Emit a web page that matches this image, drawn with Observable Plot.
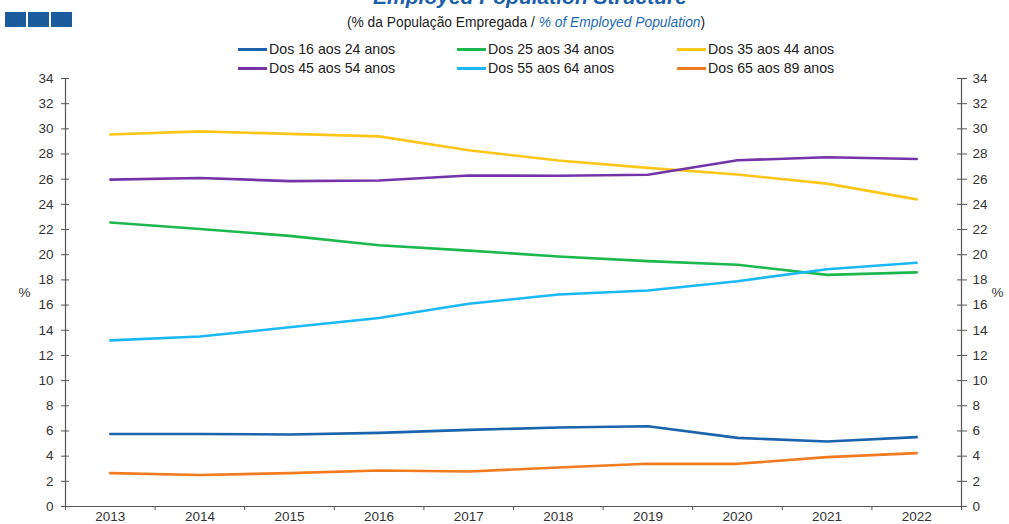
<!DOCTYPE html>
<html><head><meta charset="utf-8">
<script src="https://cdn.jsdelivr.net/npm/d3@7"></script>
<script src="https://cdn.jsdelivr.net/npm/@observablehq/plot@0.6"></script>
<style>
body{margin:0;background:#fff;font-family:"Liberation Sans",Arial,sans-serif;}
#wrap{position:relative;width:1009px;height:524px;overflow:hidden;background:#fff;}
.box{position:absolute;top:12px;width:21px;height:15px;background:#1a5c9e;}
#title{position:absolute;left:530px;top:-14px;transform:translateX(-50%);white-space:nowrap;font-size:21px;line-height:21px;font-weight:bold;font-style:italic;color:#1c5fa8;z-index:2;}
#subtitle{position:absolute;left:526px;top:16px;transform:translateX(-50%);white-space:nowrap;font-size:13.8px;line-height:14px;color:#222;z-index:2;}
#subtitle span{color:#1c6bb8;font-style:italic;}
#legend{position:absolute;left:0;top:0;z-index:2;}
.lg{position:absolute;font-size:14.2px;line-height:14px;color:#222;white-space:nowrap;}
.lg i{display:inline-block;width:29px;height:3px;vertical-align:middle;margin-right:2px;position:relative;top:-1px;}
#chart{position:absolute;left:0;top:70px;z-index:1;}
</style></head><body>
<div id="wrap">
  <div class="box" style="left:5px"></div>
  <div class="box" style="left:28px"></div>
  <div class="box" style="left:51px"></div>
  <div id="title">Employed Population Structure</div>
  <div id="subtitle">(% da População Empregada / <span>% of Employed Population</span>)</div>
  <div id="legend"></div>
  <div id="chart"></div>
</div>
<script>
const years = [2013, 2014, 2015, 2016, 2017, 2018, 2019, 2020, 2021, 2022];
const seriesNames = ["Dos 16 aos 24 anos", "Dos 25 aos 34 anos", "Dos 35 aos 44 anos", "Dos 45 aos 54 anos", "Dos 55 aos 64 anos", "Dos 65 aos 89 anos"];
const seriesColors = ["#1a63ad", "#1cb84e", "#ffc61a", "#7434a8", "#1ab8f5", "#f27b1f"];
const v16_24 = [5.76, 5.76, 5.72, 5.85, 6.09, 6.27, 6.38, 5.45, 5.16, 5.51];
const v25_34 = [22.56, 22.05, 21.5, 20.75, 20.33, 19.86, 19.49, 19.2, 18.4, 18.6];
const v35_44 = [29.55, 29.8, 29.6, 29.4, 28.3, 27.48, 26.9, 26.37, 25.65, 24.4];
const v45_54 = [25.97, 26.1, 25.85, 25.9, 26.3, 26.27, 26.35, 27.5, 27.75, 27.6];
const v55_64 = [13.2, 13.5, 14.24, 14.98, 16.1, 16.84, 17.16, 17.9, 18.85, 19.36];
const v65_89 = [2.65, 2.5, 2.65, 2.86, 2.78, 3.1, 3.39, 3.39, 3.92, 4.24];
const yTicks = [0, 2, 4, 6, 8, 10, 12, 14, 16, 18, 20, 22, 24, 26, 28, 30, 32, 34];

const allValues = [v16_24, v25_34, v35_44, v45_54, v55_64, v65_89];
const data = [];
allValues.forEach((vals, i) => vals.forEach((v, j) => data.push({series: seriesNames[i], year: years[j], value: v})));
const xDom = [years[0] - 0.5, years[years.length - 1] + 0.5];
const bounds = years.map(y => y - 0.5).concat([xDom[1]]);

// legend
const legend = document.getElementById("legend");
const colX = [238, 457, 677];
const rowY = [42, 61];
seriesNames.forEach((name, i) => {
  const d = document.createElement("div");
  d.className = "lg";
  d.style.left = colX[i % 3] + "px";
  d.style.top = rowY[Math.floor(i / 3)] + "px";
  d.innerHTML = `<i style="background:${seriesColors[i]}"></i>${name}`;
  legend.appendChild(d);
});

const noText = () => "";
const chart = Plot.plot({
  width: 1009,
  height: 454,
  marginTop: 8,
  marginBottom: 18,
  marginLeft: 65,
  marginRight: 48,
  style: {fontFamily: '"Liberation Sans", Arial, sans-serif', fontSize: "13.5px", color: "#333", background: "transparent", overflow: "visible"},
  x: {type: "linear", domain: xDom},
  y: {domain: [0, 34]},
  color: {domain: seriesNames, range: seriesColors},
  marks: [
    Plot.ruleX([xDom[0], xDom[1]], {stroke: "#555", strokeWidth: 1.2}),
    Plot.ruleY([0], {stroke: "#555", strokeWidth: 1.2}),
    Plot.axisY({anchor: "left", ticks: yTicks, tickSize: 4, tickPadding: 8, label: null, stroke: "#555"}),
    Plot.axisY({anchor: "left", ticks: yTicks, tickSize: 4, dx: 4, tickFormat: noText, label: null, stroke: "#555"}),
    Plot.axisY({anchor: "right", ticks: yTicks, tickSize: 5, tickPadding: 6, label: null, stroke: "#555"}),
    Plot.axisY({anchor: "right", ticks: yTicks, tickSize: 5, dx: -5, tickFormat: noText, label: null, stroke: "#555"}),
    Plot.axisX({ticks: years, tickSize: 0, tickPadding: 5, tickFormat: d => String(d), label: null}),
    Plot.axisX({ticks: bounds, tickSize: 4, tickFormat: noText, label: null, stroke: "#555"}),
    Plot.text(["%"], {text: d => d, frameAnchor: "left", dx: -47, fill: "#333"}),
    Plot.text(["%"], {text: d => d, frameAnchor: "right", dx: 42, fill: "#333"}),
    Plot.line(data, {x: "year", y: "value", z: "series", stroke: "series", strokeWidth: 2.6})
  ]
});
document.getElementById("chart").appendChild(chart);
</script>
</body></html>
